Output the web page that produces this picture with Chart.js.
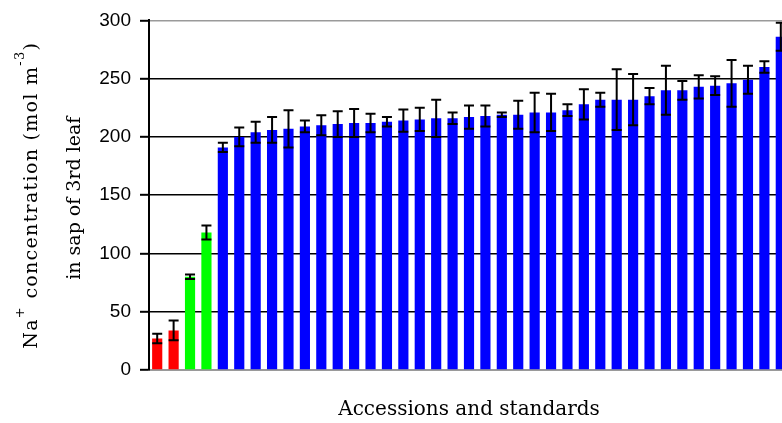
<!DOCTYPE html>
<html>
<head>
<meta charset="utf-8">
<script src="https://cdn.jsdelivr.net/npm/chart.js@4.4.1/dist/chart.umd.min.js"></script>
<style>
  html, body { margin: 0; padding: 0; background: #fff; overflow: hidden; }
  #wrap { position: absolute; left: 0; top: 0; width: 789px; height: 423px; }
</style>
</head>
<body>
<div id="wrap"><canvas id="chart"></canvas></div>
<script>
// Leaf-sap Na+ concentration: 2 salt-sensitive standards, 2 tolerant standards, then accessions
const accessions = [
  'S1', 'S2', 'T1', 'T2',
  'A1', 'A2', 'A3', 'A4', 'A5', 'A6', 'A7', 'A8', 'A9', 'A10',
  'A11', 'A12', 'A13', 'A14', 'A15', 'A16', 'A17', 'A18', 'A19', 'A20',
  'A21', 'A22', 'A23', 'A24', 'A25', 'A26', 'A27', 'A28', 'A29', 'A30',
  'A31', 'A32', 'A33', 'A34', 'A35'
];
const sodiumMeans = [
  27, 34, 80, 118,
  191, 200, 204, 206, 207, 209, 210, 211, 212, 212,
  213, 214, 215, 216, 216, 217, 218, 219, 219, 221,
  221, 223, 228, 232, 232, 232, 235, 240, 240, 243,
  244, 246, 249, 260, 286
];
const sodiumErrors = [
  4, 8.5, 2, 6,
  4, 8, 9, 11, 16, 5, 8.5, 11, 12, 8,
  4, 9.5, 10, 16, 5, 10, 9, 2, 12, 17,
  16, 5, 13, 6, 26, 22, 7, 21, 8, 10,
  8, 20, 12, 5, 12
];
const groups = [
  'sensitive', 'sensitive', 'tolerant', 'tolerant',
  'accession', 'accession', 'accession', 'accession', 'accession', 'accession', 'accession', 'accession', 'accession', 'accession',
  'accession', 'accession', 'accession', 'accession', 'accession', 'accession', 'accession', 'accession', 'accession', 'accession',
  'accession', 'accession', 'accession', 'accession', 'accession', 'accession', 'accession', 'accession', 'accession', 'accession',
  'accession', 'accession', 'accession', 'accession', 'accession'
];
const yTicks = [0, 50, 100, 150, 200, 250, 300];
const xTitle = 'Accessions and standards';
const yTitleLine1 = [['Na', false], ['+', true], [' concentration (mol m', false], ['-3', true], [')', false]];
const yTitleLine2 = 'in sap of 3rd leaf';

const groupColors = { sensitive: '#ff0000', tolerant: '#00ff00', accession: '#0000ff' };

// Error bars (mean ± error) drawn on top of each bar using the y scale
const errorBars = {
  id: 'errorBars',
  afterDatasetsDraw(chart) {
    const ctx = chart.ctx;
    const y = chart.scales.y;
    const meta = chart.getDatasetMeta(0);
    ctx.save();
    ctx.strokeStyle = '#000';
    ctx.lineWidth = 2;
    meta.data.forEach((bar, i) => {
      const v = sodiumMeans[i], e = sodiumErrors[i];
      const top = y.getPixelForValue(v + e);
      const bot = y.getPixelForValue(v - e);
      const half = 5;
      ctx.beginPath();
      ctx.moveTo(bar.x, top); ctx.lineTo(bar.x, bot);
      ctx.moveTo(bar.x - half, top); ctx.lineTo(bar.x + half, top);
      ctx.moveTo(bar.x - half, bot); ctx.lineTo(bar.x + half, bot);
      ctx.stroke();
    });
    ctx.restore();
  }
};

// Two-line rotated y title with superscripts
const yTitle = {
  id: 'yTitle',
  afterDraw(chart) {
    const ctx = chart.ctx;
    const area = chart.chartArea;
    const cy = (area.top + area.bottom) / 2;
    const base = '19px "DejaVu Serif"';
    const sup = '13px "DejaVu Serif"';
    // line 1
    ctx.save();
    ctx.fillStyle = '#000';
    ctx.textBaseline = 'alphabetic';
    ctx.letterSpacing = '1.3px';
    let total = 0;
    yTitleLine1.forEach(([t, s]) => { ctx.font = s ? sup : base; total += ctx.measureText(t).width; });
    ctx.translate(37, cy);
    ctx.rotate(-Math.PI / 2);
    let x = -total / 2;
    yTitleLine1.forEach(([t, s]) => {
      ctx.font = s ? sup : base;
      ctx.fillText(t, x, s ? -13 : 0);
      x += ctx.measureText(t).width;
    });
    ctx.restore();
    // line 2
    ctx.save();
    ctx.fillStyle = '#000';
    ctx.font = base;
    ctx.textAlign = 'center';
    ctx.textBaseline = 'alphabetic';
    ctx.translate(80, cy + 3);
    ctx.rotate(-Math.PI / 2);
    ctx.fillText(yTitleLine2, 0, 0);
    ctx.restore();
  }
};

new Chart(document.getElementById('chart'), {
  type: 'bar',
  data: {
    labels: accessions,
    datasets: [{
      data: sodiumMeans,
      backgroundColor: groups.map(g => groupColors[g]),
      borderWidth: 0,
      barPercentage: 0.62,
      categoryPercentage: 1.0
    }]
  },
  options: {
    responsive: true,
    maintainAspectRatio: false,
    animation: false,
    layout: { padding: { top: 20, left: 0, right: 0, bottom: 0 } },
    plugins: { legend: { display: false }, tooltip: { enabled: false } },
    scales: {
      x: {
        grid: { display: false },
        border: { display: true, color: '#9a9a9a', width: 2 },
        ticks: { display: false },
        title: {
          display: true,
          text: xTitle,
          color: '#000',
          font: { family: '"DejaVu Serif"', size: 20, lineHeight: 1.2 },
          padding: { top: 0, bottom: 1 }
        },
        afterFit(scale) { scale.height = 53; }
      },
      y: {
        min: 0,
        max: 300,
        afterBuildTicks(scale) { scale.ticks = yTicks.map(v => ({ value: v })); },
        ticks: {
          color: '#000',
          padding: 9,
          font: { family: '"Liberation Sans"', size: 19 }
        },
        grid: {
          color: ctx => (ctx.tick && (ctx.tick.value === 300 || ctx.tick.value === 0)) ? '#9a9a9a' : '#000',
          lineWidth: 1.6,
          tickLength: 9,
          tickColor: '#000',
          tickWidth: 2
        },
        border: { display: true, color: '#000', width: 2 },
        afterFit(scale) { scale.width = 149; }
      }
    }
  },
  plugins: [errorBars, yTitle]
});
</script>
</body>
</html>
